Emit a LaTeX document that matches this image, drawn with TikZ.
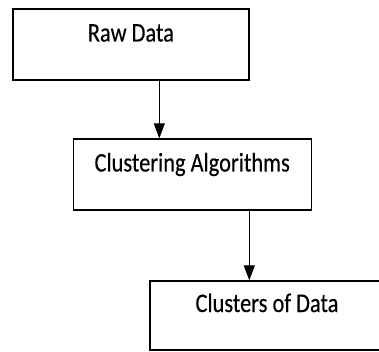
\documentclass[tikz,border=0pt]{standalone}
\usepackage{fontspec}
\setmainfont{Carlito}
\newfontfamily\boxfont{Carlito}[FakeBold=0.4]
\usetikzlibrary{arrows.meta}

\tikzset{
  flowbox/.style={rectangle, draw, line width=1.3pt, inner sep=0pt,
    minimum width=237pt, minimum height=71pt,
    text height=10pt, text depth=16pt,
    font=\boxfont\fontsize{22.4}{26}\selectfont},
  flowarrow/.style={-{Triangle[width=11pt,length=15pt]}, line width=1.2pt},
}
\newcommand{\tallText}[1]{\scalebox{1}[1.2]{#1}}

\begin{document}
\begin{tikzpicture}[x=1pt, y=-1pt]
            \clip (0, 0) rectangle (379, 352);
            \fill[white] (0, 0) rectangle (379, 352);

            \node[flowbox, minimum width=236pt] (raw) at (130.9, 44.5) {\tallText{Raw Data}};
            \node[flowbox, minimum width=238pt] (algo) at (192.2, 174.5) {\tallText{Clustering Algorithms}};
            \node[flowbox, minimum width=234pt, minimum height=69pt, text depth=17pt] (clus) at (267, 315.5) {\tallText{Clusters of Data}};

            % arrows sit off the box centres
            \coordinate (colA) at (159.3, 0);
            \coordinate (colB) at (249.3, 0);
            \draw[flowarrow] (colA |- raw.south) -- (colA |- algo.north);
            \draw[flowarrow] (colB |- algo.south) -- (colB |- clus.north);

        \end{tikzpicture}
\end{document}
